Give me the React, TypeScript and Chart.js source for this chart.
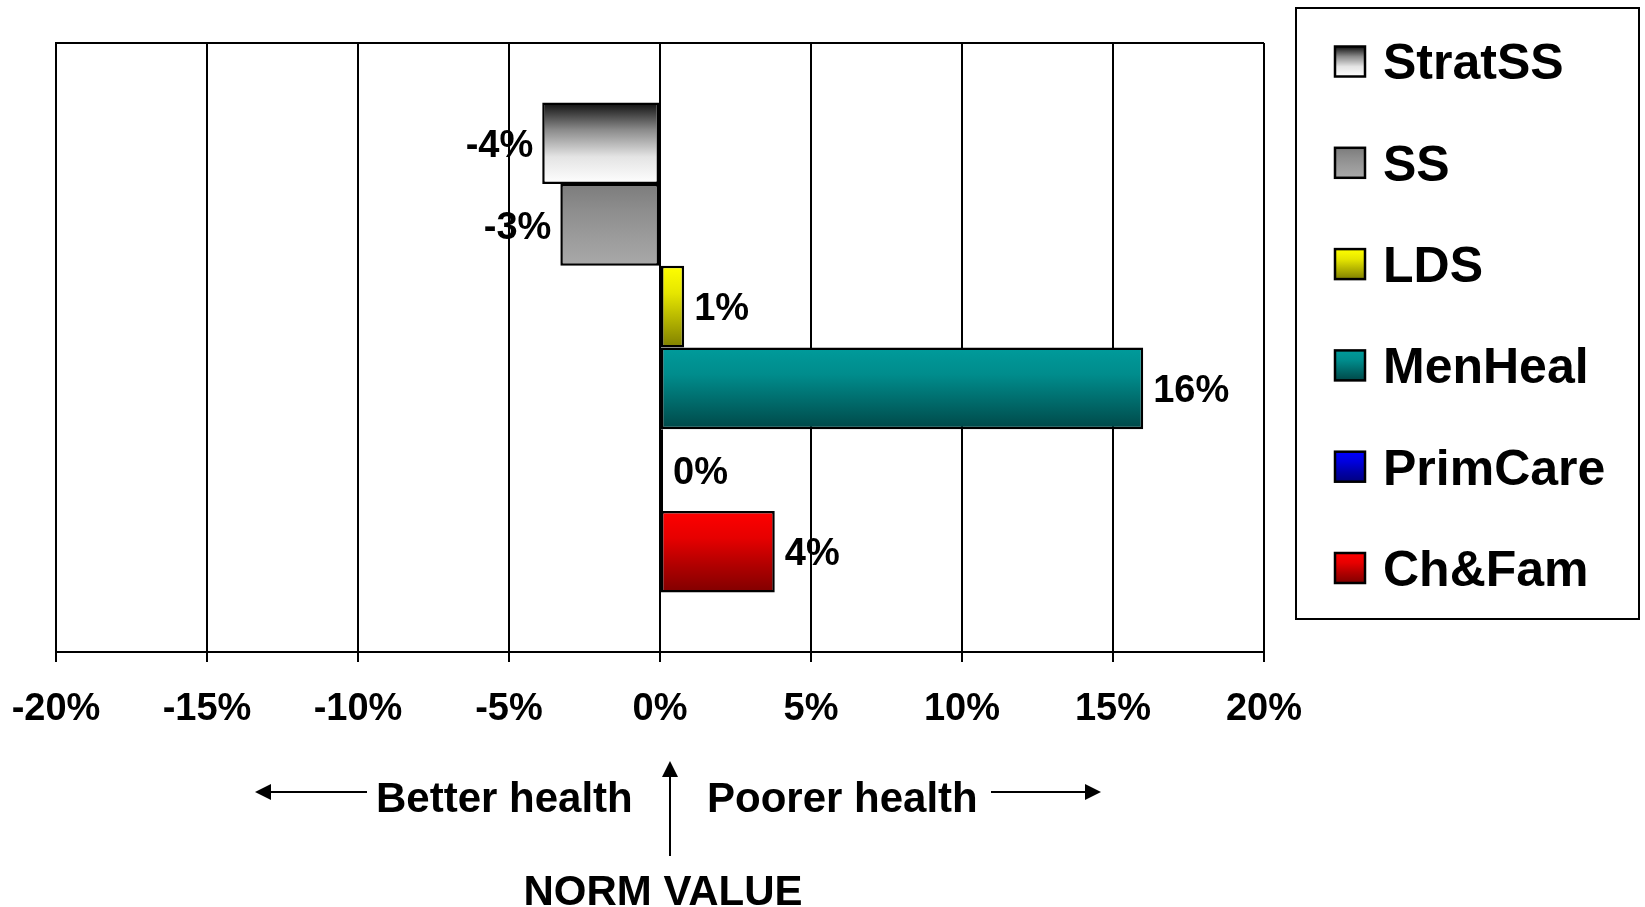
import { useEffect, useRef } from "react";
import { Chart, registerables } from "chart.js";

Chart.register(...registerables);

// Change against the norm, in percent, one bar per service group.
const seriesNames = ["StratSS", "SS", "LDS", "MenHeal", "PrimCare", "Ch&Fam"];
const seriesValues = [-3.9, -3.3, 0.8, 16.0, 0.1, 3.8];
const categoryLabels = [""];

// Vertical fill ramps (top -> bottom) for each group.
const seriesRamps = [
  ["#0d0d0d", "#8a8a8a", "#e4e4e4", "#ffffff"],
  ["#7c7c7c", "#8e8e8e", "#9c9c9c", "#a9a9a9"],
  ["#ffff00", "#e6e600", "#b3b300", "#7f7f00"],
  ["#009b9b", "#008c8c", "#006a6a", "#004848"],
  ["#0000ff", "#0000dd", "#0000aa", "#000080"],
  ["#ff0000", "#e60000", "#b00000", "#800000"],
];

const xMin = -20;
const xMax = 20;
const xStep = 5;

const FONT = '"Liberation Sans", Arial, sans-serif';

function rampGradient(ctx: CanvasRenderingContext2D, stops: string[], top: number, bottom: number) {
  const g = ctx.createLinearGradient(0, top, 0, bottom);
  stops.forEach((c, i) => g.addColorStop(i / (stops.length - 1), c));
  return g;
}

const barFillPlugin = {
  id: "barFill",
  beforeDatasetsDraw(chart: any) {
    const ctx = chart.ctx;
    chart.data.datasets.forEach((_: any, i: number) => {
      const meta = chart.getDatasetMeta(i);
      meta.data.forEach((el: any) => {
        const { y, height } = el.getProps(["y", "height"], true);
        const g = rampGradient(ctx, seriesRamps[i], y - height / 2, y + height / 2);
        el.options = { ...el.options, backgroundColor: g };
      });
    });
  },
};

const valueLabelPlugin = {
  id: "valueLabels",
  afterDatasetsDraw(chart: any) {
    const ctx = chart.ctx;
    const size = 38;
    ctx.save();
    ctx.font = `bold ${size}px ${FONT}`;
    ctx.fillStyle = "#000";
    ctx.textBaseline = "alphabetic";
    chart.data.datasets.forEach((ds: any, i: number) => {
      const meta = chart.getDatasetMeta(i);
      meta.data.forEach((el: any, j: number) => {
        const v = ds.data[j] as number;
        const r = Math.round(v);
        const text = `${r === 0 ? 0 : r}%`;
        const { x, y } = el.getProps(["x", "y"], true);
        const by = y + size * 0.358;
        if (v < 0) {
          ctx.textAlign = "right";
          ctx.fillText(text, x - 9, by);
        } else {
          ctx.textAlign = "left";
          ctx.fillText(text, x + 10, by);
        }
      });
    });
    ctx.restore();
  },
};

const framePlugin = {
  id: "frame",
  afterDraw(chart: any) {
    const ctx = chart.ctx;
    const a = chart.chartArea;
    ctx.save();
    ctx.strokeStyle = "#000";
    ctx.lineWidth = 2;
    ctx.beginPath();
    ctx.moveTo(a.left, a.top);
    ctx.lineTo(a.right, a.top);
    ctx.stroke();
    ctx.restore();
  },
};

const legendPlugin = {
  id: "boxLegend",
  afterDraw(chart: any) {
    const ctx = chart.ctx;
    ctx.save();
    ctx.strokeStyle = "#000";
    ctx.lineWidth = 2;
    ctx.strokeRect(1296, 8, 343, 611);
    const size = 50;
    ctx.font = `bold ${size}px ${FONT}`;
    ctx.textAlign = "left";
    ctx.textBaseline = "alphabetic";
    seriesNames.forEach((name, i) => {
      const cy = 61.5 + i * 101.3;
      const sw = 30;
      const sx = 1335;
      const sy = cy - sw / 2;
      ctx.fillStyle = rampGradient(ctx, seriesRamps[i], sy, sy + sw);
      ctx.fillRect(sx, sy, sw, sw);
      ctx.strokeStyle = "#000";
      ctx.lineWidth = 2.5;
      ctx.strokeRect(sx, sy, sw, sw);
      ctx.fillStyle = "#000";
      ctx.fillText(name, 1383, cy + size * 0.358);
    });
    ctx.restore();
  },
};

function arrow(ctx: CanvasRenderingContext2D, x1: number, y1: number, x2: number, y2: number) {
  // line from (x1,y1) with a filled head at (x2,y2)
  const ang = Math.atan2(y2 - y1, x2 - x1);
  const len = 16;
  const half = 8;
  const bx = x2 - Math.cos(ang) * len;
  const by = y2 - Math.sin(ang) * len;
  ctx.beginPath();
  ctx.moveTo(x1, y1);
  ctx.lineTo(bx, by);
  ctx.stroke();
  ctx.beginPath();
  ctx.moveTo(x2, y2);
  ctx.lineTo(bx - Math.sin(ang) * half, by + Math.cos(ang) * half);
  ctx.lineTo(bx + Math.sin(ang) * half, by - Math.cos(ang) * half);
  ctx.closePath();
  ctx.fill();
}

const notesPlugin = {
  id: "healthNotes",
  afterDraw(chart: any) {
    const ctx = chart.ctx;
    ctx.save();
    ctx.strokeStyle = "#000";
    ctx.fillStyle = "#000";
    ctx.lineWidth = 2;
    arrow(ctx, 367, 792, 255, 792);
    arrow(ctx, 991, 792, 1101, 792);
    arrow(ctx, 670, 856, 670, 761);
    ctx.font = `bold 42px ${FONT}`;
    ctx.textBaseline = "alphabetic";
    ctx.textAlign = "left";
    ctx.fillText("Better health", 376, 812);
    ctx.fillText("Poorer health", 707, 812);
    ctx.textAlign = "center";
    ctx.fillText("NORM VALUE", 663, 905);
    ctx.restore();
  },
};

export default function App() {
  const canvasRef = useRef<HTMLCanvasElement | null>(null);

  useEffect(() => {
    const canvas = canvasRef.current;
    if (!canvas) return;
    const chart = new Chart(canvas, {
      type: "bar",
      data: {
        labels: categoryLabels,
        datasets: seriesNames.map((name, i) => ({
          label: name,
          data: [seriesValues[i]],
          backgroundColor: seriesRamps[i][0],
          borderColor: "#000",
          borderWidth: 2.5,
          borderSkipped: false,
          categoryPercentage: 0.805,
          barPercentage: 1.0,
        })),
      },
      options: {
        indexAxis: "y",
        responsive: false,
        animation: false,
        events: [],
        layout: { padding: { left: 56, top: 43, right: 381, bottom: 0 } },
        plugins: {
          legend: { display: false },
          tooltip: { enabled: false },
        },
        scales: {
          x: {
            type: "linear",
            min: xMin,
            max: xMax,
            afterFit(scale: any) {
              scale.height = 255;
              scale.paddingLeft = 0;
              scale.paddingRight = 0;
            },
            ticks: {
              stepSize: xStep,
              padding: 25,
              color: "#000",
              font: { family: FONT, size: 38, weight: "bold" },
              callback: (v: any) => `${v}%`,
            },
            grid: {
              color: "#000",
              lineWidth: 2,
              tickLength: 10,
              drawOnChartArea: true,
            },
            border: { display: true, color: "#000", width: 2 },
          },
          y: {
            afterFit(scale: any) {
              scale.width = 0;
              scale.paddingTop = 0;
              scale.paddingBottom = 0;
            },
            ticks: { display: false },
            grid: { display: false },
            border: { display: true, color: "#000", width: 2 },
          },
        },
      },
      plugins: [barFillPlugin, valueLabelPlugin, framePlugin, legendPlugin, notesPlugin],
    } as any);
    return () => chart.destroy();
  }, []);

  return (
    <div style={{ position: "absolute", left: 0, top: 0, width: 1645, height: 907, background: "#fff" }}>
      <canvas ref={canvasRef} width={1645} height={907} style={{ display: "block" }} />
    </div>
  );
}
